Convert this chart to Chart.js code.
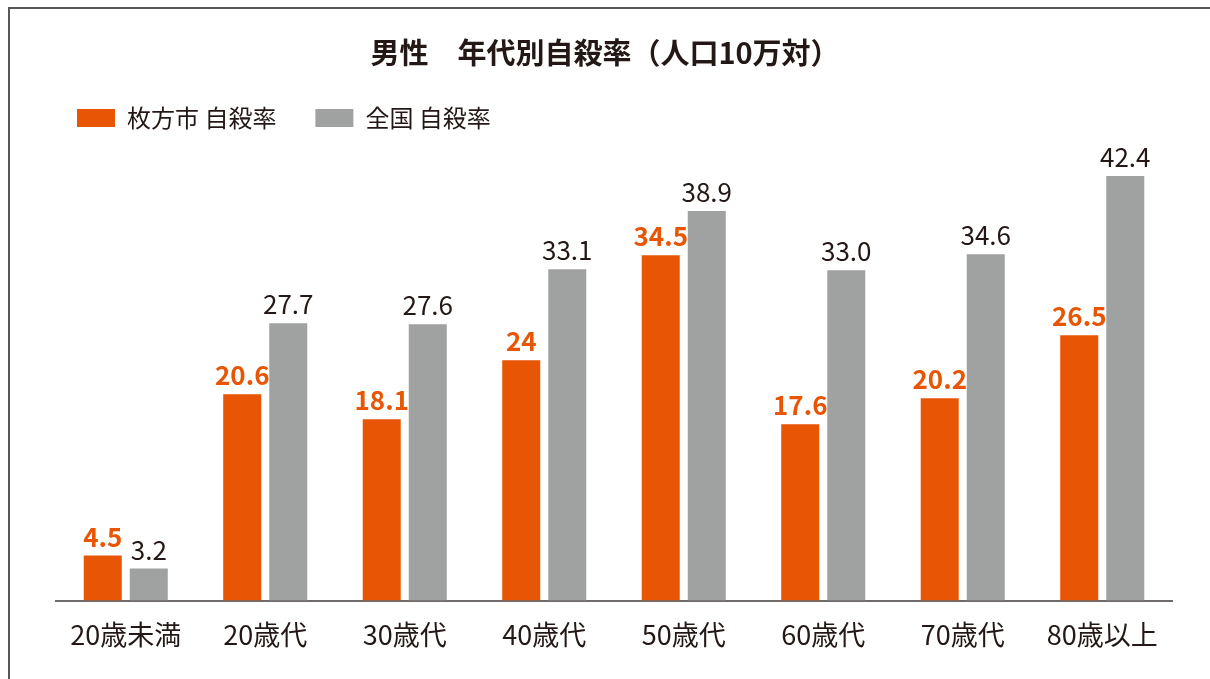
<!DOCTYPE html>
<html lang="ja">
<head>
<meta charset="utf-8">
<title>男性 年代別自殺率</title>
<script src="https://cdn.jsdelivr.net/npm/chart.js@4.4.1/dist/chart.umd.min.js"></script>
<style>
  html, body { margin: 0; padding: 0; background: #fff; }
  #wrap { position: relative; width: 1210px; height: 679px; }
  #frame { position: absolute; left: 8px; top: 7px; right: 0; bottom: 0;
           border-left: 2px solid #5a5656; border-top: 2px solid #5a5656; pointer-events: none; }
  canvas { display: block; }
</style>
</head>
<body>
<div id="wrap">
  <canvas id="chart" width="1210" height="679"></canvas>
  <div id="frame"></div>
</div>
<script>
const FONT = "'Noto Sans CJK JP', 'Noto Sans', sans-serif";
const TEXT_COLOR = "#231815";

const categories = ["20歳未満", "20歳代", "30歳代", "40歳代", "50歳代", "60歳代", "70歳代", "80歳以上"];
const hirakata = [4.5, 20.6, 18.1, 24, 34.5, 17.6, 20.2, 26.5];
const national = [3.2, 27.7, 27.6, 33.1, 38.9, 33.0, 34.6, 42.4];

// value labels drawn above each bar
const barLabels = {
  id: "barLabels",
  afterDatasetsDraw(chart) {
    const ctx = chart.ctx;
    chart.data.datasets.forEach((ds, i) => {
      const meta = chart.getDatasetMeta(i);
      ctx.save();
      ctx.font = (i === 0 ? "bold " : "") + "26px " + FONT;
      ctx.fillStyle = i === 0 ? "#e85504" : TEXT_COLOR;
      ctx.textAlign = "center";
      ctx.textBaseline = "alphabetic";
      meta.data.forEach((bar, j) => {
        const v = ds.data[j];
        const txt = i === 0 ? String(v) : v.toFixed(1);
        ctx.fillText(txt, bar.x, bar.y - 9);
      });
      ctx.restore();
    });
  }
};

new Chart(document.getElementById("chart"), {
  type: "bar",
  data: {
    labels: categories,
    datasets: [
      { label: "枚方市 自殺率", data: hirakata, backgroundColor: "#e85504" },
      { label: "全国 自殺率", data: national, backgroundColor: "#a0a1a1" }
    ]
  },
  options: {
    responsive: false,
    animation: false,
    categoryPercentage: 0.66,
    barPercentage: 0.826,
    layout: { padding: { left: 38, right: 38, top: 0, bottom: 10 } },
    plugins: {
      title: {
        display: true,
        text: "男性　年代別自殺率（人口10万対）",
        color: TEXT_COLOR,
        font: { family: FONT, size: 29, weight: "bold", lineHeight: 1 },
        padding: { top: 38, bottom: 0 }
      },
      legend: {
        position: "top",
        align: "start",
        labels: {
          color: TEXT_COLOR,
          font: { family: FONT, size: 24 },
          boxWidth: 38,
          boxHeight: 18,
          padding: 39
        }
      },
      tooltip: { enabled: false }
    },
    scales: {
      x: {
        grid: { display: false, drawTicks: false },
        border: { display: true, color: "#6f6b6a", width: 2 },
        ticks: { color: TEXT_COLOR, font: { family: FONT, size: 27 }, padding: 18 }
      },
      y: {
        min: 0,
        max: 46,
        grid: { display: false, drawTicks: false },
        border: { display: false },
        ticks: { display: false },
        afterFit(scale) { scale.width = 18; }
      }
    }
  },
  plugins: [barLabels]
});
</script>
</body>
</html>
